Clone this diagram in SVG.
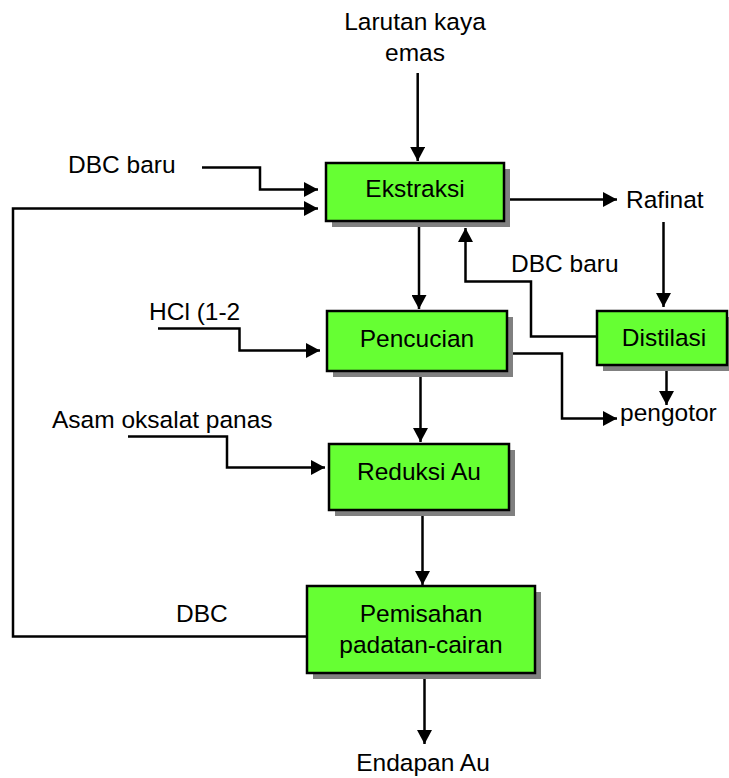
<svg xmlns="http://www.w3.org/2000/svg" width="729" height="778" viewBox="0 0 729 778">
<style>
.box{fill:#66FF33;stroke:#000;stroke-width:2.5}
.shadow{fill:#808080}
.t{font-family:"Liberation Sans",Arial,sans-serif;font-size:24.5px;fill:#000}
.m{text-anchor:middle}
.c{fill:none;stroke:#000;stroke-width:2.5;marker-end:url(#ah)}
</style>
<defs>
<marker id="ah" markerUnits="userSpaceOnUse" markerWidth="14" markerHeight="15" refX="14" refY="7.5" orient="auto">
<path d="M0,0 L14,7.5 L0,15 z" fill="#000"/>
</marker>
</defs>
<rect width="729" height="778" fill="#fff"/>
<g id="connectors">
<path class="c" d="M417.7,73 V161"/>
<path class="c" d="M202,167.5 H260 V189.5 H318"/>
<path class="c" d="M307,636.5 H13 V208.5 H318"/>
<path class="c" d="M419,221 V309"/>
<path class="c" d="M504,199.5 H617"/>
<path class="c" d="M663.5,222 V307"/>
<path class="c" d="M597,336.5 H531 V281.5 H465.5 V228"/>
<path class="c" d="M666.5,365 V405"/>
<path class="c" d="M158,328.5 H239.5 V350.5 H320"/>
<path class="c" d="M507,353.5 H562 V418.5 H617"/>
<path class="c" d="M420.5,371 V442"/>
<path class="c" d="M128,436.5 H227 V467.5 H325"/>
<path class="c" d="M422.5,510 V585"/>
<path class="c" d="M424.5,673 V744"/>
</g>
<g id="ekstraksi">
<rect class="shadow" x="332" y="169" width="178" height="58"/>
<rect class="box" x="326" y="163" width="178" height="58"/>
<text class="t m" x="415" y="197">Ekstraksi</text>
</g>
<g id="pencucian">
<rect class="shadow" x="333" y="317" width="180" height="60"/>
<rect class="box" x="327" y="311" width="180" height="60"/>
<text class="t m" x="417" y="347">Pencucian</text>
</g>
<g id="reduksi">
<rect class="shadow" x="335" y="450" width="180" height="66"/>
<rect class="box" x="329" y="444" width="180" height="66"/>
<text class="t m" x="419" y="480">Reduksi Au</text>
</g>
<g id="pemisahan">
<rect class="shadow" x="313" y="592" width="228" height="87"/>
<rect class="box" x="307" y="586" width="228" height="87"/>
<text class="t m" x="421" y="622">Pemisahan</text>
<text class="t m" x="421" y="653">padatan-cairan</text>
</g>
<g id="distilasi">
<rect class="shadow" x="603" y="317" width="130" height="54"/>
<rect class="box" x="597" y="311" width="130" height="54"/>
<text class="t m" x="664" y="346">Distilasi</text>
</g>
<g id="labels">
<text class="t m" x="415" y="30">Larutan kaya</text>
<text class="t m" x="415" y="61">emas</text>
<text class="t" x="68" y="173">DBC baru</text>
<text class="t" x="626" y="208">Rafinat</text>
<text class="t" x="511" y="272">DBC baru</text>
<text class="t" x="149" y="320">HCl (1-2</text>
<text class="t" x="620" y="421">pengotor</text>
<text class="t" x="52" y="428">Asam oksalat panas</text>
<text class="t" x="176" y="622">DBC</text>
<text class="t m" x="423" y="771">Endapan Au</text>
</g>
</svg>
